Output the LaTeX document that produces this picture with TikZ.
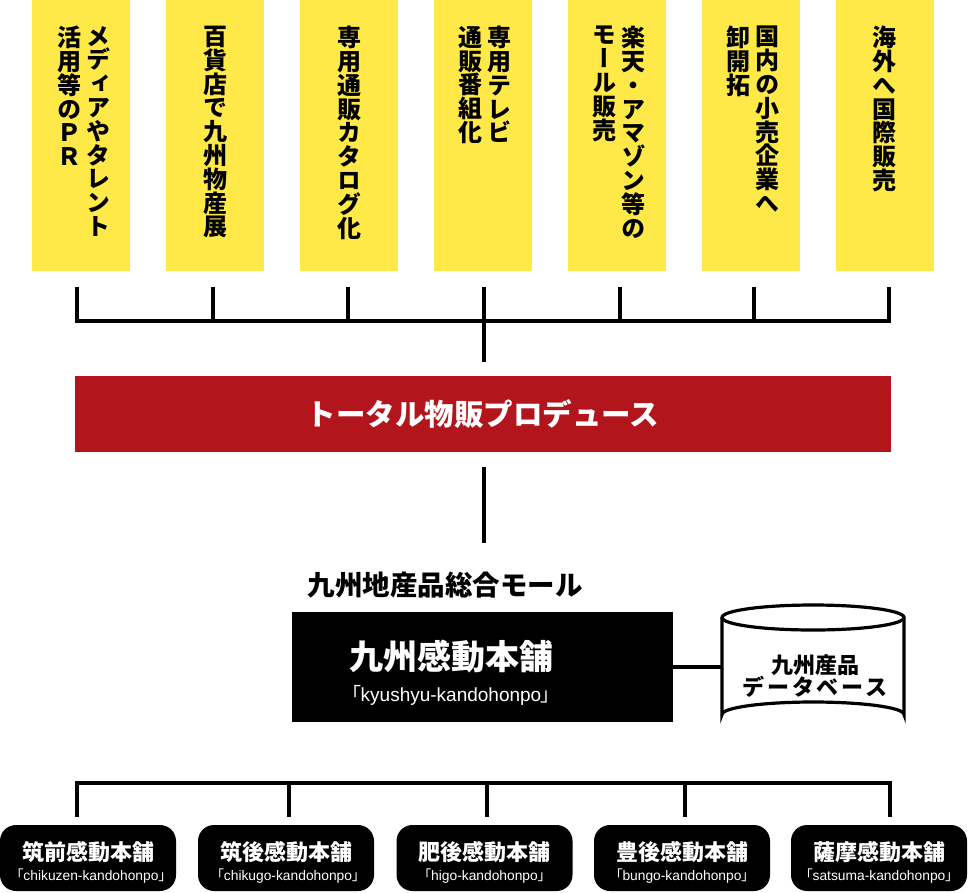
\documentclass[tikz,border=0pt]{standalone}
\usepackage{fontspec}
\newfontfamily\jp{Noto Sans CJK JP}
\newfontfamily\jpv{Noto Sans CJK JP}[RawFeature=+vert]
\newfontfamily\jpp{Noto Sans CJK JP}[RawFeature=+palt]
\newfontfamily\lat{Liberation Sans}
\definecolor{myyellow}{RGB}{255,233,72}
\definecolor{myred}{RGB}{178,21,27}
\newcommand{\romaji}[1]{{\jpp 「}{\lat #1}{\jpp 」}}
\begin{document}
\begin{tikzpicture}[x=1pt,y=-1pt,
  ybox/.style={fill=myyellow, draw=none, minimum width=98, minimum height=271, anchor=north west, inner sep=0},
  vcol/.style={anchor=north, align=center, inner sep=0, font=\jpv\bfseries\fontsize{24}{23.8}\selectfont},
  wire/.style={line width=4pt, line cap=butt},
  bbox/.style={fill=black, rounded corners=16pt, minimum width=176, minimum height=66, inner sep=0},
  bname/.style={text=white, inner sep=0, font=\jp\bfseries\fontsize{22}{24}\selectfont},
  bsub/.style={text=white, inner sep=0, font=\fontsize{13.8}{15}\selectfont}]
\useasboundingbox (0,0) rectangle (968,892);

% yellow boxes
\node[ybox] (y1) at (32,0) {};
\node[ybox] (y2) at (166,0) {};
\node[ybox] (y3) at (300,0) {};
\node[ybox] (y4) at (434,0) {};
\node[ybox] (y5) at (568,0) {};
\node[ybox] (y6) at (702,0) {};
\node[ybox] (y7) at (836,0) {};

\node[vcol] (t1a) at (98,26) {メ\\デ\\ィ\\ア\\や\\タ\\レ\\ン\\ト};
\node[vcol] (t1b) at (69,26) {活\\用\\等\\の\\Ｐ\\Ｒ};
\node[vcol] (t2) at (215,26) {百\\貨\\店\\で\\九\\州\\物\\産\\展};
\node[vcol] (t3) at (349,26) {専\\用\\通\\販\\カ\\タ\\ロ\\グ\\化};
\node[vcol] (t4a) at (499,26) {専\\用\\テ\\レ\\ビ};
\node[vcol] (t4b) at (470,26) {通\\販\\番\\組\\化};
\node[vcol] (t5a) at (633,26) {楽\\天\\・\\ア\\マ\\ゾ\\ン\\等\\の};
\node[vcol] (t5b) at (604,26) {モ\\ー\\ル\\販\\売};
\node[vcol] (t6a) at (767,26) {国\\内\\の\\小\\売\\企\\業\\へ};
\node[vcol] (t6b) at (738,26) {卸\\開\\拓};
\node[vcol] (t7) at (884,26) {海\\外\\へ\\国\\際\\販\\売};

% top ticks and bus
\foreach \i/\xx in {1/77,2/213,3/348,4/484,5/620,6/754,7/889}{
  \coordinate (u\i) at (\xx,287);
  \coordinate (b\i) at (\xx,321);
}
\foreach \i in {1,...,7}{ \draw[wire] (u\i) -- (b\i); }
\draw[wire] ([xshift=-2pt]b1) -- ([xshift=2pt]b7);
\coordinate (c1) at (484,362);
\draw[wire] (b4) -- (c1);

% red bar
\node[fill=myred, minimum width=816, minimum height=76, inner sep=0, text=white,
      font=\jp\bfseries\fontsize{29.5}{31}\selectfont] (red) at (483,414) {トータル物販プロデュース};

\coordinate (c2) at (484,467);
\coordinate (c3) at (484,543);
\draw[wire] (c2) -- (c3);

% title
\node[inner sep=0, font=\jp\bfseries\fontsize{27.5}{30}\selectfont] (title) at (445,585) {九州地産品総合モール};

% main box
\node[fill=black, minimum width=381, minimum height=110, inner sep=0] (main) at (482.5,667) {};
\node[text=white, inner sep=0, font=\jp\bfseries\fontsize{34}{36}\selectfont] (mt1) at (451,657) {九州感動本舗};
\node[text=white, inner sep=0, font=\fontsize{19}{20}\selectfont] (mt2) at (451,695) {\romaji{kyushyu-kandohonpo}};

% database cylinder
\node[minimum width=182, minimum height=122, inner sep=0] (db) at (813,666) {};
\draw[line width=3.2pt, fill=white] (722,617.5) -- (722,714.5)
  arc[start angle=180, end angle=360, x radius=91, y radius=12.5] -- (904,617.5);
\draw[line width=3.2pt] (813,617.5) ellipse [x radius=91, y radius=12.5];
\node[align=center, inner sep=0, font=\jp\bfseries\fontsize{22}{22}\selectfont] (dbt) at (815,676) {九州産品\\{\addfontfeature{LetterSpace=12}データベース}};
\draw[line width=3.5pt] (main.east) -- (main.east -| db.west);

% bottom bus
\foreach \i/\xx in {1/77,2/289,3/487,4/685,5/890}{
  \coordinate (d\i) at (\xx,783);
  \coordinate (e\i) at (\xx,817);
}
\draw[wire] ([xshift=-2pt]d1) -- ([xshift=2pt]d5);
\foreach \i in {1,...,5}{ \draw[wire] (d\i) -- (e\i); }

% bottom boxes
\node[bbox] (k1) at (88,858) {};
\node[bbox] (k2) at (286,858) {};
\node[bbox] (k3) at (484.5,858) {};
\node[bbox] (k4) at (682,858) {};
\node[bbox] (k5) at (879,858) {};

\node[bname] (n1) at (88,852) {筑前感動本舗};
\node[bname] (n2) at (286,852) {筑後感動本舗};
\node[bname] (n3) at (484.5,852) {肥後感動本舗};
\node[bname] (n4) at (682,852) {豊後感動本舗};
\node[bname] (n5) at (879,852) {薩摩感動本舗};

\node[bsub] (s1) at (91,876) {\romaji{chikuzen-kandohonpo}};
\node[bsub] (s2) at (288,876) {\romaji{chikugo-kandohonpo}};
\node[bsub] (s3) at (484.5,876) {\romaji{higo-kandohonpo}};
\node[bsub] (s4) at (682,876) {\romaji{bungo-kandohonpo}};
\node[bsub] (s5) at (879,876) {\romaji{satsuma-kandohonpo}};
\end{tikzpicture}
\end{document}
